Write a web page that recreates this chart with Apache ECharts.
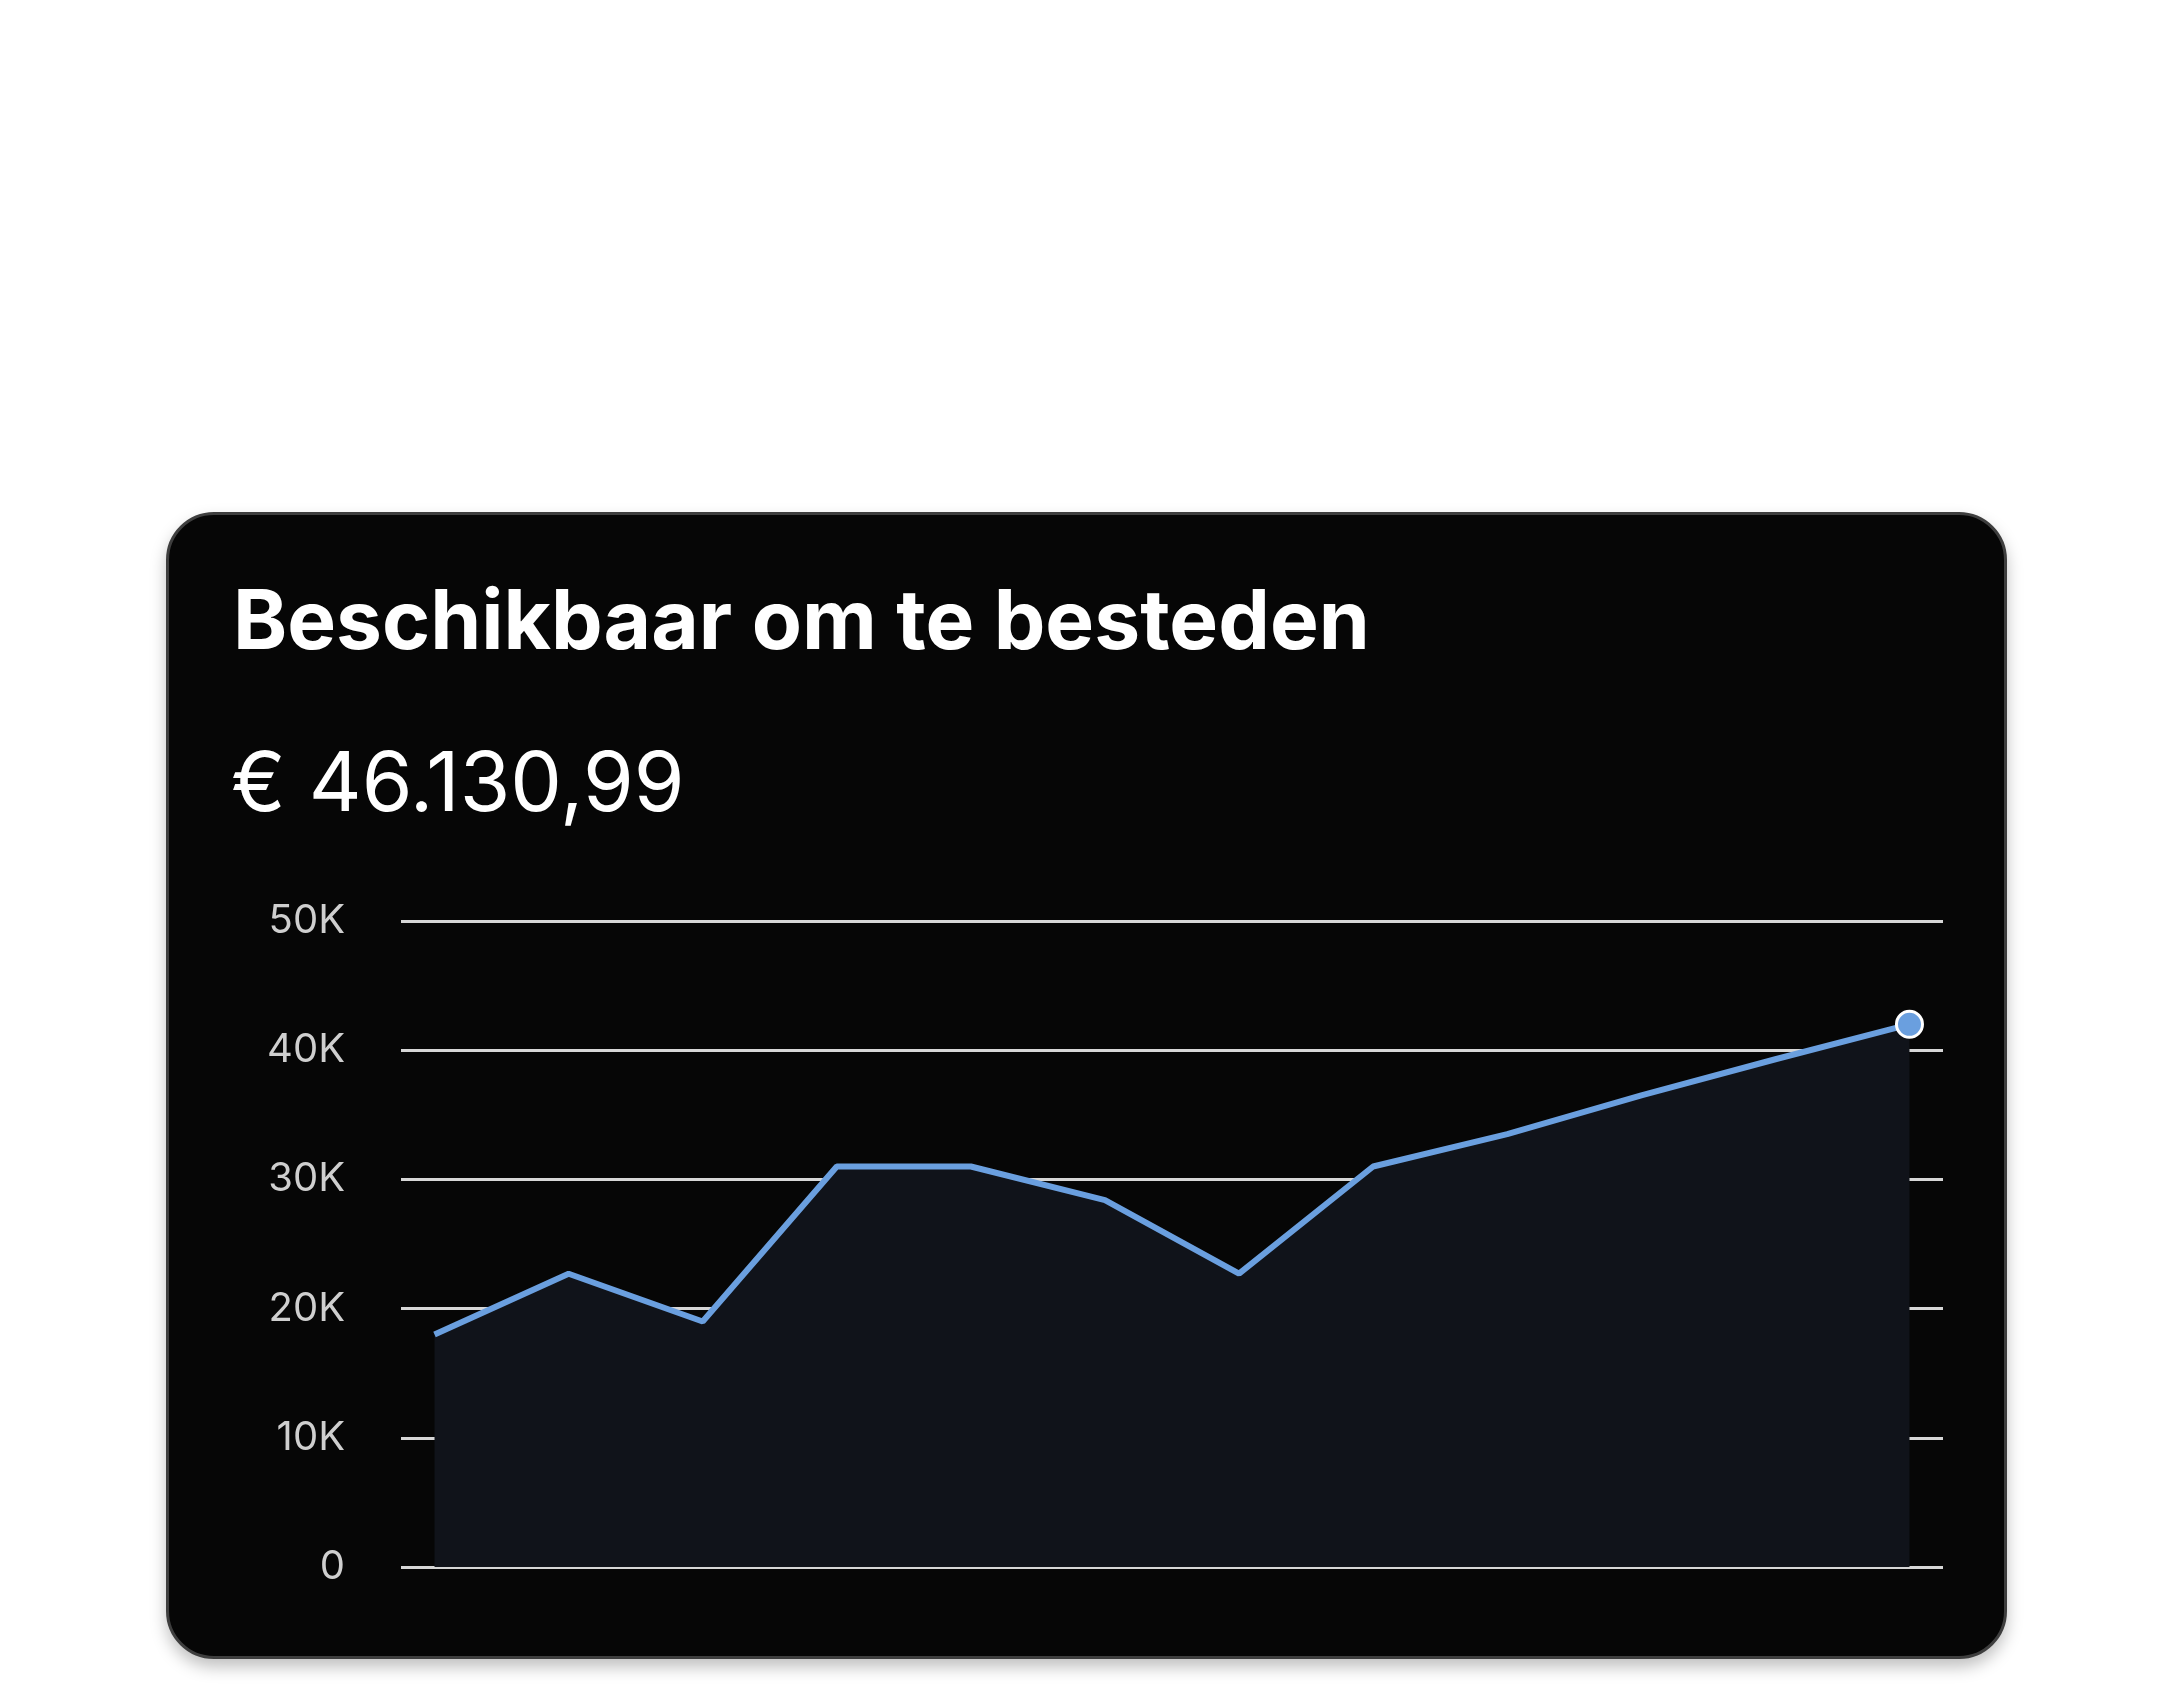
<!DOCTYPE html>
<html><head><meta charset="utf-8">
<script src="https://cdn.jsdelivr.net/npm/echarts@6/dist/echarts.min.js"></script>
<style>
html,body{margin:0;padding:0;background:#fff;width:2160px;height:1704px;overflow:hidden}
#card{position:absolute;left:166px;top:512px;width:1835px;height:1141px;background:#060606;border:3px solid #3e3e3e;border-radius:48px;box-shadow:0 8px 16px rgba(0,0,0,0.25)}
#chart{position:absolute;left:0;top:0;width:2160px;height:1704px}
</style></head><body>
<div id="card"></div>
<div id="chart"></div>
<script>
const titleText = 'Beschikbaar om te besteden';
const amountText = '€ 46.130,99';
const values = [18000, 22700, 19000, 31000, 31000, 28400, 22700, 31000, 33500, 36500, 39300, 42000];
const yTicks = [0, 10000, 20000, 30000, 40000, 50000];
const chart = echarts.init(document.getElementById('chart'), null, {renderer:'canvas'});
chart.setOption({
  backgroundColor:'transparent',
  title:[
    {text:titleText,left:228,top:578,textStyle:{color:'#fff',fontSize:82,fontWeight:'bold',fontFamily:'Inter'}},
    {text:amountText,left:226,top:740,textStyle:{color:'#fff',fontSize:82,fontWeight:'normal',fontFamily:'Inter'}}
  ],
  grid:{left:401,right:217,top:921,bottom:137},
  xAxis:{type:'value',min:-0.25,max:values.length-0.75,show:false},
  yAxis:{type:'value',min:0,max:50000,interval:10000,
    axisLine:{show:false},axisTick:{show:false},
    axisLabel:{color:'#cfcfcf',fontSize:40,fontFamily:'Inter',margin:56,
      formatter:v=>yTicks.includes(v)?(v===0?'0':(v/1000)+'K'):''},
    splitLine:{lineStyle:{color:'#d6d6d6',width:3}}},
  series:[{type:'line',data:values.map((v,i)=>[i,v]),
    lineStyle:{color:'#6a9fdf',width:6},
    areaStyle:{color:'#10131a',opacity:1},
    symbol:'circle',symbolSize:(v,p)=>p.dataIndex===values.length-1?26:0,
    showSymbol:true,
    itemStyle:{color:'#6a9fdf',borderColor:'#fff',borderWidth:3},
    z:1}]
});
</script></body></html>
